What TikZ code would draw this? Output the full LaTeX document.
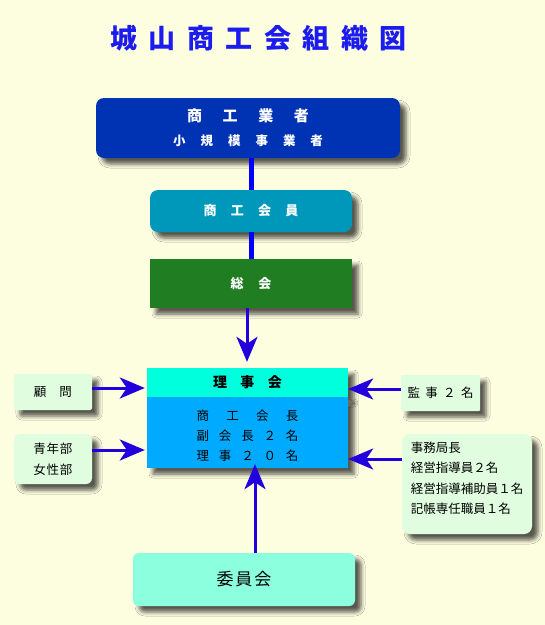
\documentclass[tikz,border=0pt]{standalone}
\usepackage{fontspec}
\setmainfont{Noto Sans CJK JP}
\usetikzlibrary{arrows.meta,shadows.blur}
\definecolor{bgc}{HTML}{FDFDE0}
\definecolor{titlec}{HTML}{1C1CEE}
\definecolor{c1}{HTML}{0033B4}
\definecolor{c2}{HTML}{0098BA}
\definecolor{c3}{HTML}{217D22}
\definecolor{headc}{HTML}{00FFDD}
\definecolor{bodyc}{HTML}{00AAFF}
\definecolor{sidec}{HTML}{E0FDE0}
\definecolor{iinc}{HTML}{8CFFDE}
\definecolor{arrc}{HTML}{2200DD}
\definecolor{linec}{HTML}{0000FF}
\newcommand{\spr}[2]{\makebox[#1][s]{#2}}
\tikzset{
  shad/.style={blur shadow={shadow xshift=6pt,shadow yshift=-6pt,shadow blur radius=4pt,shadow opacity=65}},
  box/.style={shad,inner sep=0pt,align=center},
  conn/.style={draw=linec,line width=5pt},
  arr/.style={draw=arrc,line width=3pt,-{Stealth[length=25pt,width=21pt,inset=7pt]}},
}
\begin{document}
\begin{tikzpicture}[x=1pt,y=-1pt]
\useasboundingbox (0,0) rectangle (545,625);
\fill[bgc] (0,0) rectangle (545,625);
\node[text=titlec,font=\fontsize{27}{30}\selectfont\bfseries] (title) at (258.5,38)
  {\spr{297pt}{城\hfil 山\hfil 商\hfil 工\hfil 会\hfil 組\hfil 織\hfil 図}};
% upper boxes
\node[box,fill=c1,rounded corners=8pt,minimum width=304pt,minimum height=60pt,text=white] (b1) at (248,128)
  {{\fontsize{15}{26}\selectfont\bfseries\spr{122pt}{商\hfil 工\hfil 業\hfil 者}}\\[11pt]
   {\fontsize{12.5}{15}\selectfont\bfseries\spr{150pt}{小\hfil 規\hfil 模\hfil 事\hfil 業\hfil 者}}};
\node[box,fill=c2,rounded corners=8pt,minimum width=202pt,minimum height=42pt,text=white,font=\fontsize{13}{15}\selectfont\bfseries] (b2) at (251,211)
  {\spr{95pt}{商\hfil 工\hfil 会\hfil 員}};
\node[box,fill=c3,minimum width=202pt,minimum height=49pt,text=white,font=\fontsize{13}{15}\selectfont\bfseries] (b3) at (251,283.5)
  {\spr{41pt}{総\hfil 会}};
% board
\node[box,fill=headc,minimum width=201pt,minimum height=29pt,font=\fontsize{14}{16}\selectfont\bfseries] (head) at (247.5,382.5)
  {\spr{69pt}{理\hfil 事\hfil 会}};
\node[box,fill=bodyc,minimum width=201pt,minimum height=71pt,font=\fontsize{12.5}{20}\selectfont] (body) at (247.5,432.5)
  {\rule{0pt}{17pt}\spr{102pt}{商\hfil 工\hfil 会\hfil 長}\\
   \spr{102pt}{副\hfil 会\hfil 長\hfil ２\hfil 名}\\
   \spr{102pt}{理\hfil 事\hfil ２\hfil ０\hfil 名}};
% side boxes
\node[box,fill=sidec,rounded corners=2pt,minimum width=78pt,minimum height=36pt,font=\fontsize{12.5}{15}\selectfont] (komon) at (53,392)
  {\spr{38pt}{顧\hfil 問}};
\node[box,fill=sidec,rounded corners=6pt,minimum width=78pt,minimum height=50pt,font=\fontsize{12.5}{21}\selectfont] (seinen) at (53,459)
  {\spr{39pt}{青\hfil 年\hfil 部}\\ \spr{39pt}{女\hfil 性\hfil 部}};
\node[box,fill=sidec,rounded corners=1pt,minimum width=79pt,minimum height=36pt,font=\fontsize{12.5}{15}\selectfont] (kanji) at (440.5,393)
  {\spr{66pt}{監\hfil 事\hfil ２\hfil 名}};
\node[box,fill=sidec,rounded corners=8pt,minimum width=130pt,minimum height=100pt,font=\fontsize{12.5}{20.3}\selectfont,align=left] (jimu) at (467,484)
  {事務局長\\ 経営指導員２名\\ 経営指導補助員１名\\ 記帳専任職員１名\\[-8pt]\mbox{}};
\node[box,fill=iinc,rounded corners=6pt,minimum width=222pt,minimum height=53pt,font=\fontsize{17}{20}\selectfont] (iin) at (244,579.5)
  {\spr{55pt}{委\hfil 員\hfil 会}};
% connectors
\draw[conn] (b1.south -| 251,0) -- (b2.north -| 251,0);
\draw[conn] (b2.south -| 251,0) -- (b3.north -| 251,0);
\draw[arr,shorten >=6pt] (b3.south -| 247,0) -- (head.north -| 247,0);
\draw[arr,shorten >=2pt] (komon.east |- 0,388) -- (head.west |- 0,388);
\draw[arr,shorten >=2pt] (seinen.east |- 0,450) -- (body.west |- 0,450);
\draw[arr] (kanji.west |- 0,389) -- (head.east |- 0,389);
\draw[arr] (jimu.west |- 0,459) -- (body.east |- 0,459);
\draw[arr,shorten >=-4pt] (iin.north -| 255,0) -- (body.south -| 255,0);
\end{tikzpicture}
\end{document}
